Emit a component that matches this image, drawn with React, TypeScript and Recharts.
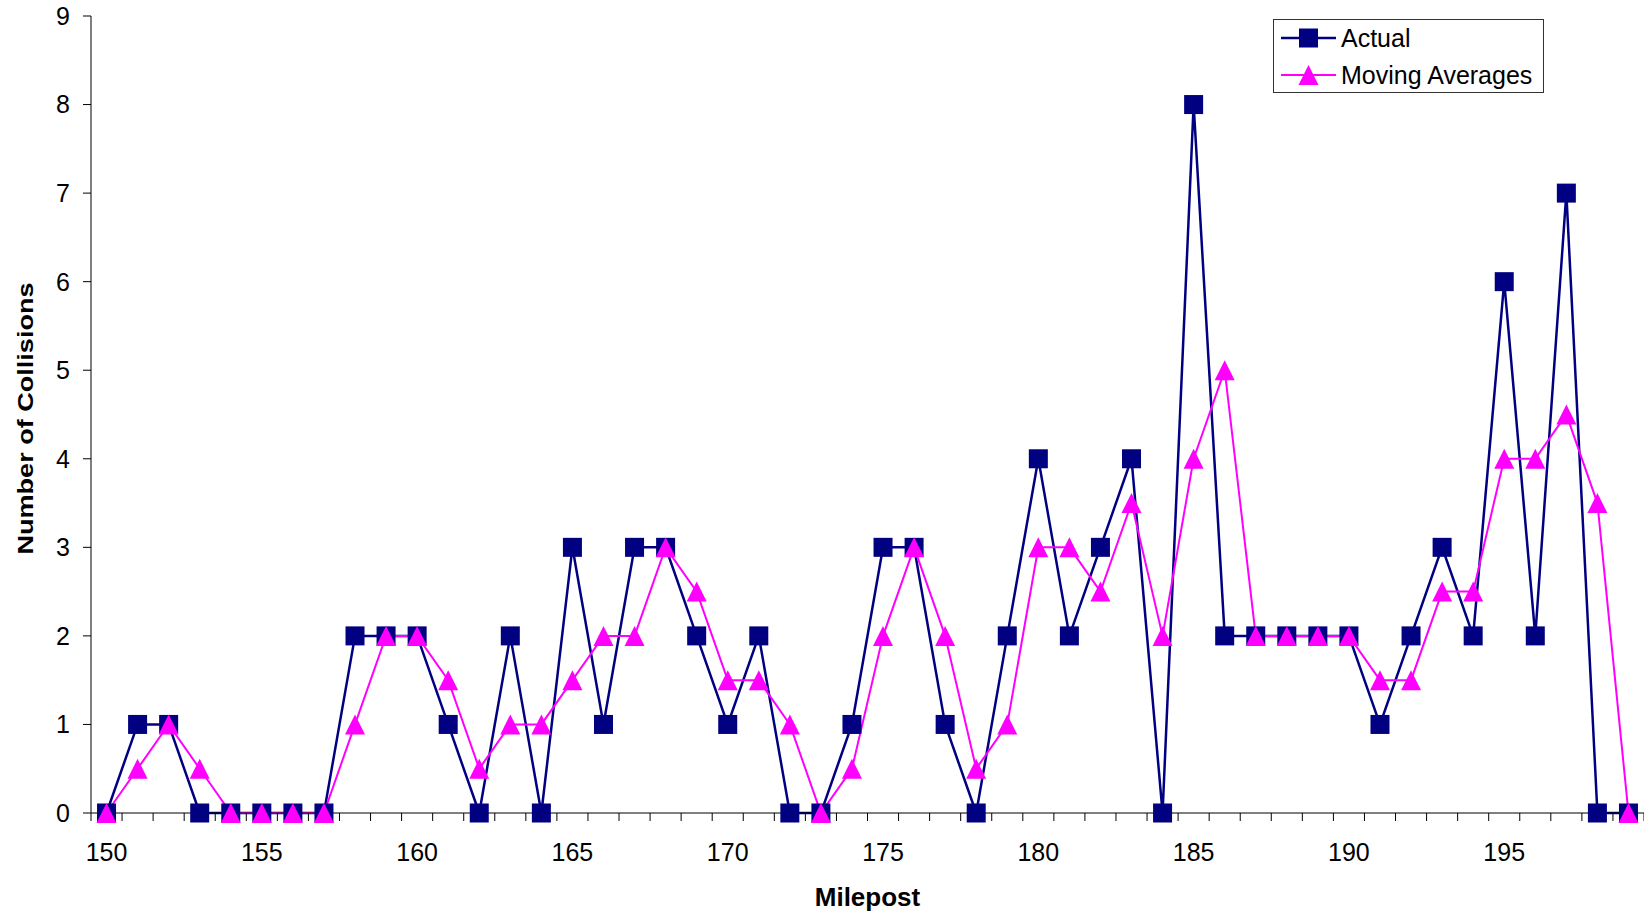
import { Label, Legend, Line, LineChart, XAxis, YAxis } from "recharts";

const mileposts = [
  150, 151, 152, 153, 154, 155, 156, 157, 158, 159,
  160, 161, 162, 163, 164, 165, 166, 167, 168, 169,
  170, 171, 172, 173, 174, 175, 176, 177, 178, 179,
  180, 181, 182, 183, 184, 185, 186, 187, 188, 189,
  190, 191, 192, 193, 194, 195, 196, 197, 198, 199,
];

const actual = [
  0, 1, 1, 0, 0, 0, 0, 0, 2, 2,
  2, 1, 0, 2, 0, 3, 1, 3, 3, 2,
  1, 2, 0, 0, 1, 3, 3, 1, 0, 2,
  4, 2, 3, 4, 0, 8, 2, 2, 2, 2,
  2, 1, 2, 3, 2, 6, 2, 7, 0, 0,
];

const movingAverages = [
  0, 0.5, 1, 0.5, 0, 0, 0, 0, 1, 2,
  2, 1.5, 0.5, 1, 1, 1.5, 2, 2, 3, 2.5,
  1.5, 1.5, 1, 0, 0.5, 2, 3, 2, 0.5, 1,
  3, 3, 2.5, 3.5, 2, 4, 5, 2, 2, 2,
  2, 1.5, 1.5, 2.5, 2.5, 4, 4, 4.5, 3.5, 0,
];

const yTicks = [0, 1, 2, 3, 4, 5, 6, 7, 8, 9];

const data = mileposts.map((m, i) => ({
  milepost: m,
  actual: actual[i],
  avg: movingAverages[i],
}));

const NAVY = "#000080";
const MAGENTA = "#FF00FF";
const FONT = '"Liberation Sans", Arial, sans-serif';

const W = 1644;
const H = 916;
const Y_AXIS_W = 91;
const PLOT_W = W - Y_AXIS_W;
const BAND = PLOT_W / mileposts.length;

function SquareDot(props: any) {
  const { cx, cy, index } = props;
  if (cx == null || cy == null) return <g key={`sq-${index}`} />;
  return (
    <rect key={`sq-${index}`} x={cx - 9.5} y={cy - 9.5} width={19} height={19} fill={NAVY} />
  );
}

function TriangleDot(props: any) {
  const { cx, cy, index } = props;
  if (cx == null || cy == null) return <g key={`tr-${index}`} />;
  return (
    <polygon
      key={`tr-${index}`}
      points={`${cx},${cy - 10} ${cx - 10},${cy + 10} ${cx + 10},${cy + 10}`}
      fill={MAGENTA}
    />
  );
}

function MileTick(props: any) {
  const { x, y, payload, index } = props;
  const left = x - BAND / 2;
  const isLast = index === mileposts.length - 1;
  return (
    <g>
      <line x1={left} x2={left} y1={y} y2={y + 8} stroke="#000" strokeWidth={1} />
      {isLast && (
        <line x1={x + BAND / 2} x2={x + BAND / 2} y1={y} y2={y + 8} stroke="#000" strokeWidth={1} />
      )}
      {payload.value % 5 === 0 && (
        <text x={x} y={y + 48} textAnchor="middle" fontSize={25} fontFamily={FONT} fill="#000">
          {payload.value}
        </text>
      )}
    </g>
  );
}

function LegendBox() {
  return (
    <svg width={272} height={75} style={{ display: "block" }}>
      <rect x={0.5} y={0.5} width={270} height={73} fill="#fff" stroke="#333" strokeWidth={1} />
      <line x1={8} x2={63} y1={19} y2={19} stroke={NAVY} strokeWidth={2.5} />
      <rect x={26} y={9.5} width={19} height={19} fill={NAVY} />
      <text x={68} y={28} fontSize={25} fontFamily={FONT} fill="#000">
        Actual
      </text>
      <line x1={8} x2={63} y1={56} y2={56} stroke={MAGENTA} strokeWidth={2} />
      <polygon points="35.5,46 25.5,66 45.5,66" fill={MAGENTA} />
      <text x={68} y={65} fontSize={25} fontFamily={FONT} fill="#000">
        Moving Averages
      </text>
    </svg>
  );
}

export default function App() {
  return (
    <div style={{ position: "absolute", left: 0, top: 0, width: W, height: H, background: "#fff" }}>
      <LineChart
        width={W}
        height={H}
        data={data}
        margin={{ top: 16, right: 0, bottom: 0, left: 0 }}
        style={{ fontFamily: FONT }}
      >
        <XAxis
          dataKey="milepost"
          type="category"
          interval={0}
          height={103}
          padding={{ left: BAND / 2, right: BAND / 2 }}
          tickSize={0}
          tickMargin={0}
          tickLine={false}
          tick={<MileTick />}
          axisLine={{ stroke: "#000", strokeWidth: 1 }}
        >
          <Label
            content={(p: any) => {
              const vb = p.viewBox || {};
              return (
                <text
                  x={vb.x + vb.width / 2}
                  y={vb.y + 93}
                  textAnchor="middle"
                  fontSize={26}
                  fontWeight="bold"
                  fontFamily={FONT}
                  fill="#000"
                >
                  Milepost
                </text>
              );
            }}
          />
        </XAxis>
        <YAxis
          width={Y_AXIS_W}
          domain={[0, 9]}
          ticks={yTicks}
          interval={0}
          tickSize={8}
          tickMargin={13}
          tick={{ fontSize: 25, fill: "#000", fontFamily: FONT }}
          tickLine={{ stroke: "#000" }}
          axisLine={{ stroke: "#000", strokeWidth: 1 }}
        >
          <Label
            content={(p: any) => {
              const vb = p.viewBox || {};
              const cx = 33;
              const cy = vb.y + vb.height / 2 + 4;
              return (
                <text
                  x={cx}
                  y={cy}
                  transform={`rotate(-90, ${cx}, ${cy})`}
                  textAnchor="middle"
                  fontSize={22}
                  fontWeight="bold"
                  fontFamily={FONT}
                  textLength={272}
                  lengthAdjust="spacingAndGlyphs"
                  fill="#000"
                >
                  Number of Collisions
                </text>
              );
            }}
          />
        </YAxis>
        <Legend
          layout="horizontal"
          verticalAlign="middle"
          align="center"
          content={() => <LegendBox />}
          wrapperStyle={{ position: "absolute", left: 1273, top: 19, width: 272, height: 75 }}
        />
        <Line
          type="linear"
          dataKey="actual"
          name="Actual"
          stroke={NAVY}
          strokeWidth={2.5}
          dot={SquareDot}
          activeDot={false}
          isAnimationActive={false}
        />
        <Line
          type="linear"
          dataKey="avg"
          name="Moving Averages"
          stroke={MAGENTA}
          strokeWidth={2}
          dot={TriangleDot}
          activeDot={false}
          isAnimationActive={false}
        />
      </LineChart>
    </div>
  );
}
